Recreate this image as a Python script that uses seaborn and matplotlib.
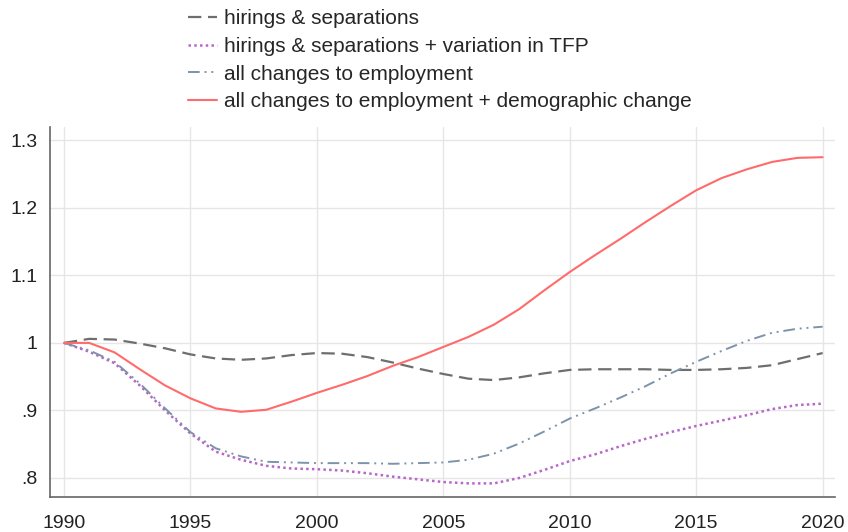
import matplotlib
matplotlib.use("Agg")
import matplotlib.pyplot as plt
import seaborn as sns
import pandas as pd
from matplotlib.ticker import FuncFormatter

years = list(range(1990, 2021))

hirings_separations = [1.000, 1.006, 1.005, 0.999, 0.992, 0.983, 0.977, 0.975, 0.977, 0.982,
                       0.985, 0.984, 0.979, 0.971, 0.962, 0.954, 0.947, 0.945, 0.949, 0.955,
                       0.960, 0.961, 0.961, 0.961, 0.960, 0.960, 0.961, 0.963, 0.967, 0.976,
                       0.985]
hirings_tfp = [1.000, 0.987, 0.970, 0.937, 0.900, 0.866, 0.839, 0.827, 0.818, 0.814,
               0.813, 0.811, 0.807, 0.802, 0.798, 0.794, 0.792, 0.792, 0.800, 0.812,
               0.825, 0.835, 0.847, 0.858, 0.868, 0.877, 0.885, 0.893, 0.902, 0.908,
               0.910]
all_changes = [1.000, 0.989, 0.972, 0.940, 0.903, 0.868, 0.844, 0.832, 0.824, 0.823,
               0.822, 0.822, 0.822, 0.821, 0.822, 0.823, 0.827, 0.836, 0.851, 0.869,
               0.888, 0.903, 0.919, 0.936, 0.955, 0.972, 0.988, 1.003, 1.015, 1.021,
               1.024]
all_changes_demo = [1.000, 1.000, 0.986, 0.961, 0.937, 0.918, 0.903, 0.898, 0.901, 0.913,
                    0.926, 0.938, 0.951, 0.966, 0.979, 0.994, 1.009, 1.027, 1.050, 1.078,
                    1.105, 1.130, 1.154, 1.179, 1.203, 1.226, 1.244, 1.257, 1.268, 1.274,
                    1.275]

labels = ["hirings & separations",
          "hirings & separations + variation in TFP",
          "all changes to employment",
          "all changes to employment + demographic change"]
series = [hirings_separations, hirings_tfp, all_changes, all_changes_demo]
colors = ["#6e6e6e", "#b866c8", "#7d93aa", "#ff6b6b"]
styles = [(0, (6, 3)), (0, (1, 1.3)), (0, (6, 2.5, 1, 2.5, 1, 2.5)), "-"]
widths = [1.6, 1.8, 1.4, 1.5]

xticks = [1990, 1995, 2000, 2005, 2010, 2015, 2020]
yticks = [0.8, 0.9, 1.0, 1.1, 1.2, 1.3]

sns.set_theme(style="white")
plt.rcParams['font.family'] = ['Liberation Sans', 'DejaVu Sans']

fig = plt.figure(figsize=(8.48, 5.32), dpi=100)
ax = fig.add_axes([0.059, 0.066, 0.926, 0.695])

for lab, vals, c, ls, lw in zip(labels, series, colors, styles, widths):
    df = pd.DataFrame({"year": years, "value": vals})
    sns.lineplot(data=df, x="year", y="value", ax=ax, color=c, linestyle=ls,
                 linewidth=lw, label=lab)

ax.set_xlim(1989.45, 2020.5)
ax.set_ylim(0.772, 1.3195)
ax.set_xticks(xticks)
ax.set_yticks(yticks)

def yfmt(v, pos):
    s = f"{v:.1f}"
    if s.endswith(".0"):
        s = s[:-2]
    if s.startswith("0."):
        s = s[1:]
    return s

ax.yaxis.set_major_formatter(FuncFormatter(yfmt))
ax.set_xlabel("")
ax.set_ylabel("")
ax.grid(True, color="#e6e6e6", linewidth=1.0)
ax.tick_params(axis="both", labelsize=14, length=0, colors="#222222")
ax.tick_params(axis="x", pad=13)
ax.tick_params(axis="y", pad=9)
for s in ["top", "right"]:
    ax.spines[s].set_visible(False)
for s in ["left", "bottom"]:
    ax.spines[s].set_color("#666666")
    ax.spines[s].set_linewidth(1.2)

h, l = ax.get_legend_handles_labels()
ax.get_legend().remove()
fig.legend(h, l, loc="upper left", bbox_to_anchor=(0.199, 1.018), frameon=False,
           fontsize=15, handlelength=1.4, labelspacing=0.42, handletextpad=0.34)

fig.savefig("out.png", dpi=100)
